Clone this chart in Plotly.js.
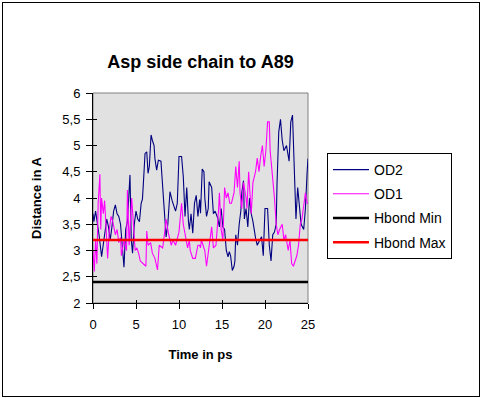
<!DOCTYPE html>
<html>
<head>
<meta charset="utf-8">
<script src="https://cdn.plot.ly/plotly-3.0.1.min.js"></script>
<style>
html,body{margin:0;padding:0;background:#fff;}
#wrap{position:relative;width:482px;height:398px;}
#chart{position:absolute;left:0;top:0;width:482px;height:398px;}
#frame{position:absolute;left:2px;top:2px;width:476px;height:393px;border:1px solid #000;pointer-events:none;}
</style>
</head>
<body>
<div id="wrap"><div id="chart"></div><div id="frame"></div></div>
<script>
// ---- data ----
const chartTitle = 'Asp side chain to A89';
const xTitle = 'Time in ps';
const yTitle = 'Distance in A';
const seriesNames = ['OD2', 'OD1', 'Hbond Min', 'Hbond Max'];

const od2Time = [0,0.1,0.3,0.5,0.7,1.0,1.2,1.4,1.6,1.8,2.0,2.2,2.4,2.6,2.8,3.0,3.2,3.4,3.6,3.8,4.0,4.1,4.3,4.45,4.6,4.8,5.0,5.2,5.4,5.6,5.75,5.9,6.05,6.25,6.4,6.55,6.75,6.9,7.1,7.2,7.4,7.6,7.9,8.1,8.3,8.5,8.7,8.95,9.2,9.4,9.6,9.8,10.0,10.3,10.5,10.7,10.9,11.1,11.2,11.4,11.6,11.8,12.0,12.2,12.4,12.5,12.7,12.9,13.0,13.2,13.4,13.5,13.8,14.0,14.2,14.5,14.7,14.9,15.1,15.3,15.5,15.7,15.85,16.0,16.2,16.4,16.5,16.6,16.8,17.0,17.2,17.3,17.5,17.6,17.8,18.0,18.2,18.4,18.6,18.9,19.1,19.4,19.6,19.8,20.0,20.3,20.5,20.7,20.9,21.1,21.3,21.4,21.6,21.8,22.0,22.2,22.5,22.8,23.0,23.2,23.4,23.6,23.8,24.0,24.2,24.5,24.7,24.9,25];
const od2Dist = [3.7,3.55,3.75,3.55,3.3,2.88,3.1,3.35,3.6,3.45,3.2,3.45,3.75,3.87,3.7,3.65,3.5,3.1,2.68,3.4,3.55,3.85,4.44,3.2,2.95,3.5,3.75,3.6,3.55,3.9,3.98,4.4,4.85,4.88,4.47,4.6,5.2,5.1,5.0,4.75,4.53,4.72,4.7,4.22,3.75,3.26,3.5,4.12,3.95,3.85,3.75,3.9,4.79,4.79,4.4,3.65,4.2,3.55,3.4,3.7,3.33,3.9,4.05,3.65,3.97,3.71,4.55,4.5,4.0,3.65,3.8,4.31,4.2,3.7,3.75,3.62,3.45,3.8,3.45,3.4,3.0,2.88,2.98,2.9,2.62,2.7,2.8,3.3,3.1,3.5,3.77,4.1,4.33,3.6,3.8,3.45,4.0,3.7,3.55,3.24,3.1,3.2,3.26,2.9,3.8,3.8,3.1,2.8,3.3,3.35,3.5,4.28,5.26,5.5,5.1,4.9,5.0,4.7,5.45,5.58,4.4,3.6,4.2,3.9,3.5,3.4,3.8,4.5,4.75];

const od1Time = [0,0.15,0.3,0.45,0.6,0.8,0.9,1.0,1.2,1.35,1.5,1.7,1.9,2.1,2.3,2.6,2.8,3.0,3.2,3.3,3.6,3.9,4.0,4.2,4.5,4.7,4.9,5.1,5.3,5.5,5.8,6.0,6.15,6.25,6.4,6.7,6.9,7.2,7.5,7.7,8.1,8.3,8.5,8.8,9.1,9.3,9.6,10.0,10.3,10.5,10.8,11.0,11.2,11.3,11.6,11.9,12.2,12.4,12.5,12.6,12.8,13.0,13.2,13.4,13.6,13.8,14.0,14.3,14.6,14.7,14.9,15.1,15.3,15.5,15.7,15.9,16.1,16.4,16.6,16.8,17.0,17.1,17.3,17.5,17.8,17.9,18.1,18.4,18.6,18.9,19.1,19.3,19.5,19.7,19.9,20.1,20.3,20.5,20.6,20.9,21.1,21.3,21.5,21.7,22.0,22.2,22.4,22.7,22.9,23.1,23.3,23.5,23.7,23.9,24.1,24.3,24.5,24.7,24.9,25];
const od1Dist = [3.0,2.6,3.2,2.75,3.9,4.45,3.4,4.0,3.7,3.95,3.5,2.85,3.4,3.65,3.55,3.3,3.4,3.15,3.25,2.9,3.2,3.0,4.15,3.1,4.0,3.5,3.0,3.05,2.95,2.8,2.75,2.72,2.7,3.37,3.1,3.15,2.95,2.85,2.63,3.1,3.05,3.3,3.6,3.3,3.1,3.2,3.1,3.35,3.9,3.5,3.2,3.05,3.2,3.0,2.85,2.85,3.1,3.1,3.05,3.2,3.1,3.0,2.7,2.95,3.15,3.45,3.05,3.1,3.77,4.1,3.4,3.2,4.2,4.0,4.1,3.9,3.9,4.1,4.6,4.2,4.7,4.1,3.8,4.3,4.0,3.8,4.5,3.7,4.3,4.5,4.76,4.5,4.8,5.0,4.6,4.9,5.45,5.45,4.9,4.4,4.0,3.5,3.3,3.4,3.5,3.2,3.3,3.0,3.2,2.75,2.7,2.8,2.9,3.1,3.5,3.6,3.9,4.1,3.9,3.9];

const hbondTime = [0, 25];
const hbondMin = [2.4, 2.4];
const hbondMax = [3.2, 3.2];

const xRange = [0, 25];
const yRange = [2, 6];

// ---- chart ----
const FONT = 'Liberation Sans, Arial, sans-serif';
const traces = [
  {x: od2Time, y: od2Dist, name: seriesNames[0], type: 'scatter', mode: 'lines',
   line: {color: '#000080', width: 1.1}, legendgroup: 'a'},
  {x: od1Time, y: od1Dist, name: seriesNames[1], type: 'scatter', mode: 'lines',
   line: {color: '#ff00ff', width: 1.1}, legendgroup: 'b'},
  {x: hbondTime, y: hbondMin, name: seriesNames[2], type: 'scatter', mode: 'lines',
   line: {color: '#000000', width: 2.5}, legendgroup: 'c', xaxis: 'x2', yaxis: 'y2'},
  {x: hbondTime, y: hbondMax, name: seriesNames[3], type: 'scatter', mode: 'lines',
   line: {color: '#ff0000', width: 2.5}, legendgroup: 'd', xaxis: 'x2', yaxis: 'y2'}
];

const axBase = {showgrid: false, zeroline: false, showline: true, linecolor: '#000', linewidth: 1,
  tickcolor: '#000', tickwidth: 1, fixedrange: true};

const layout = {
  width: 482, height: 398,
  margin: {l: 93, r: 174, t: 93, b: 95},
  paper_bgcolor: '#ffffff',
  plot_bgcolor: '#e2e1e2',
  separators: ', ',
  font: {family: FONT, size: 13, color: '#000'},
  showlegend: true,
  title: {text: '<b>' + chartTitle + '</b>', font: {family: FONT, size: 18, color: '#000'},
    x: 0.5, xref: 'paper', xanchor: 'center', y: 1 - 62/398, yref: 'container', yanchor: 'middle'},
  xaxis: Object.assign({}, axBase, {range: xRange, dtick: 5, tick0: 0, ticks: 'outside', ticklen: 5,
    tickfont: {family: FONT, size: 13}, automargin: false, ticklabelstandoff: 4,
    title: {text: '<b>' + xTitle + '</b>', font: {family: FONT, size: 13}, standoff: 19}}),
  yaxis: Object.assign({}, axBase, {range: yRange, dtick: 0.5, tick0: 2, ticks: 'outside', ticklen: 6,
    tickfont: {family: FONT, size: 13}, automargin: false, ticklabelstandoff: 3,
    title: {text: '<b>' + yTitle + '</b>', font: {family: FONT, size: 13}, standoff: 17}}),
  xaxis2: Object.assign({}, axBase, {range: xRange, dtick: 5, tick0: 0, ticks: 'inside', ticklen: 3,
    showticklabels: false, overlaying: 'x', anchor: 'y2', side: 'bottom'}),
  yaxis2: Object.assign({}, axBase, {range: yRange, dtick: 0.5, tick0: 2, ticks: 'inside', ticklen: 4,
    showticklabels: false, overlaying: 'y', anchor: 'x2', side: 'left'}),
  shapes: [{type: 'rect', xref: 'paper', yref: 'paper', x0: 0, x1: 1, y0: 0, y1: 1,
    line: {color: '#808080', width: 1}, layer: 'below'}],
  legend: {x: (327 - 93) / 215, y: (303 - 153) / 210, xanchor: 'left', yanchor: 'top',
    bgcolor: '#ffffff', bordercolor: '#000', borderwidth: 1,
    font: {family: FONT, size: 14, color: '#000'}, traceorder: 'grouped', tracegroupgap: 3,
    itemwidth: 36, entrywidth: 115, entrywidthmode: 'pixels'}
};

Plotly.newPlot('chart', traces, layout, {displayModeBar: false, staticPlot: true});
</script>
</body>
</html>
